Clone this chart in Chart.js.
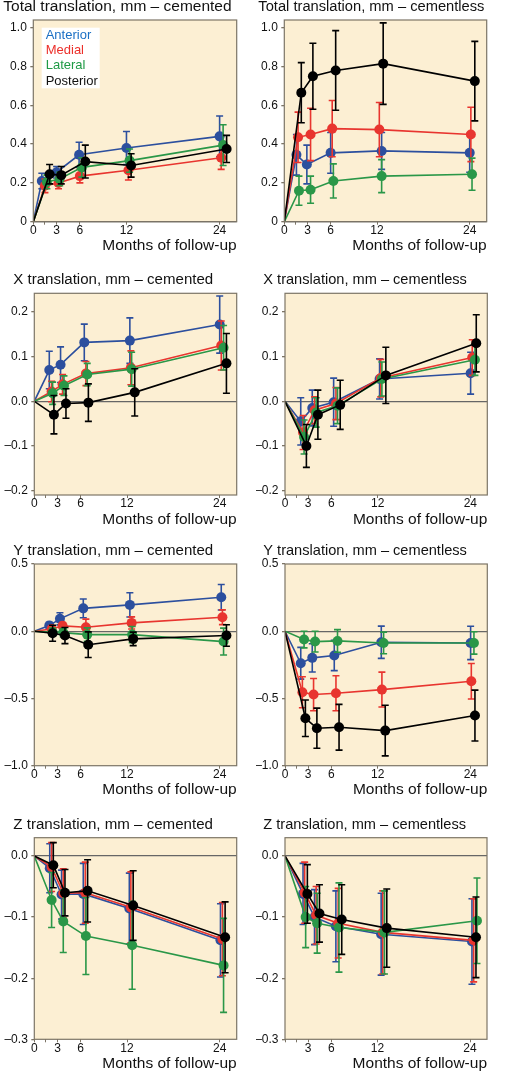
<!DOCTYPE html>
<html>
<head>
<meta charset="utf-8">
<script src="https://cdn.jsdelivr.net/npm/chart.js@4.4.0/dist/chart.umd.min.js"></script>
<style>
html, body { margin: 0; padding: 0; background: #fff; }
body { position: relative; width: 511px; height: 1071px; overflow: hidden; }
canvas { position: absolute; }
</style>
</head>
<body>
<script>
const seriesNames = ['Anterior', 'Medial', 'Lateral', 'Posterior'];
const seriesColors = ['#2c4f9e', '#e8352f', '#2a9748', '#000000'];
const legendColors = ['#1a6fc4', '#ec2f2a', '#1f9a45', '#111111'];
const seriesOrder = [3, 2, 1, 0]; // posterior drawn on top

const panelTitles = [
    'Total translation, mm \u2013 cemented',
    'Total translation, mm \u2013 cementless',
    'X translation, mm \u2013 cemented',
    'X translation, mm \u2013 cementless',
    'Y translation, mm \u2013 cemented',
    'Y translation, mm \u2013 cementless',
    'Z translation, mm \u2013 cemented',
    'Z translation, mm \u2013 cementless'
];
const xAxisTitle = 'Months of follow-up';
const xTicks = [0, 1.5, 3, 6, 12, 24];
const xTickLabels = ['0', '', '3', '6', '12', '24'];
const xTickLabelsNoZero = ['', '', '3', '6', '12', '24'];

const totalTicks = [0, 0.2, 0.4, 0.6, 0.8, 1.0];
const totalTickLabels = ['0', '0.2', '0.4', '0.6', '0.8', '1.0'];
const xTransTicks = [-0.2, -0.1, 0, 0.1, 0.2];
const xTransTickLabels = ['\u20130.2', '\u20130.1', '0.0', '0.1', '0.2'];
const yTransTicks = [-1, -0.5, 0, 0.5];
const yTransTickLabels = ['\u20131.0', '\u20130.5', '0.0', '0.5'];
const zTransTicks = [-0.3, -0.2, -0.1, 0];
const zTransTickLabels = ['\u20130.3', '\u20130.2', '\u20130.1', '0.0'];

// rows: anterior, medial, lateral, posterior; first point is the baseline
const totalCemMonths = [
    [0, 1.1, 3.0, 5.9, 12.0, 24.0],
    [0, 1.5, 3.25, 6.0, 12.25, 24.2],
    [0, 1.75, 3.4, 6.25, 12.4, 24.45],
    [0, 2.1, 3.6, 6.7, 12.6, 24.9]
];
const totalCemMean = [
    [0, 0.21, 0.255, 0.345, 0.38, 0.44],
    [0, 0.185, 0.20, 0.235, 0.265, 0.33],
    [0, 0.205, 0.22, 0.28, 0.315, 0.395],
    [0, 0.245, 0.24, 0.31, 0.29, 0.375]
];
const totalCemErr = [
    [null, 0.04, 0.03, 0.065, 0.085, 0.105],
    [null, 0.035, 0.03, 0.035, 0.05, 0.06],
    [null, 0.035, 0.035, 0.05, 0.06, 0.105],
    [null, 0.05, 0.045, 0.085, 0.06, 0.07]
];

const totalCemlessMonths = [
    [0, 1.57, 2.92, 6.0, 12.6, 24.0],
    [0, 1.78, 3.4, 6.2, 12.3, 24.15],
    [0, 1.9, 3.4, 6.35, 12.6, 24.3],
    [0, 2.2, 3.7, 6.65, 12.8, 24.66]
];
const totalCemlessMean = [
    [0, 0.345, 0.295, 0.355, 0.365, 0.355],
    [0, 0.435, 0.45, 0.48, 0.475, 0.45],
    [0, 0.16, 0.165, 0.21, 0.235, 0.245],
    [0, 0.665, 0.75, 0.78, 0.815, 0.725]
];
const totalCemlessErr = [
    [null, 0.105, 0.1, 0.105, 0.095, 0.1],
    [null, 0.13, 0.135, 0.145, 0.14, 0.14],
    [null, 0.075, 0.07, 0.088, 0.085, 0.083],
    [null, 0.155, 0.17, 0.205, 0.21, 0.205]
];

const xCemMonths = [
    [0, 1.94, 3.4, 6.47, 12.37, 24.0],
    [0, 2.24, 3.66, 6.68, 12.5, 24.2],
    [0, 2.37, 3.84, 6.85, 12.6, 24.5],
    [0, 2.54, 4.1, 7.0, 13.0, 24.87]
];
const xCemMean = [
    [0, 0.07, 0.082, 0.132, 0.136, 0.172],
    [0, 0.022, 0.038, 0.062, 0.075, 0.125],
    [0, 0.018, 0.035, 0.06, 0.072, 0.12],
    [0, -0.03, -0.005, -0.003, 0.02, 0.085]
];
const xCemErr = [
    [null, 0.042, 0.04, 0.041, 0.051, 0.064],
    [null, 0.023, 0.022, 0.027, 0.038, 0.055],
    [null, 0.025, 0.022, 0.025, 0.038, 0.05],
    [null, 0.043, 0.033, 0.042, 0.053, 0.067]
];

const xCemlessMonths = [
    [0, 2.04, 3.53, 6.3, 12.25, 24.04],
    [0, 2.34, 3.83, 6.6, 12.4, 24.25],
    [0, 2.47, 4.04, 6.8, 12.55, 24.6],
    [0, 2.77, 4.26, 7.15, 13.06, 24.77]
];
const xCemlessMean = [
    [0, -0.045, -0.015, -0.002, 0.05, 0.063],
    [0, -0.07, -0.02, -0.005, 0.052, 0.098],
    [0, -0.08, -0.025, -0.01, 0.05, 0.093],
    [0, -0.1, -0.03, -0.008, 0.058, 0.13]
];
const xCemlessErr = [
    [null, 0.053, 0.04, 0.054, 0.045, 0.047],
    [null, 0.038, 0.03, 0.036, 0.042, 0.04],
    [null, 0.038, 0.033, 0.04, 0.038, 0.035],
    [null, 0.048, 0.055, 0.055, 0.063, 0.064]
];

const yCemMonths = [
    [0, 1.94, 3.32, 6.34, 12.37, 24.2],
    [0, 2.24, 3.66, 6.68, 12.6, 24.35],
    [0, 2.37, 3.75, 6.85, 12.67, 24.5],
    [0, 2.37, 3.97, 6.98, 12.8, 24.87]
];
const yCemMean = [
    [0, 0.042, 0.092, 0.17, 0.196, 0.253],
    [0, 0.017, 0.04, 0.03, 0.062, 0.104],
    [0, -0.007, -0.01, -0.025, -0.025, -0.077],
    [0, -0.015, -0.032, -0.1, -0.057, -0.032]
];
const yCemErr = [
    [null, 0.025, 0.045, 0.07, 0.09, 0.095],
    [null, 0.02, 0.025, 0.06, 0.045, 0.055],
    [null, 0.03, 0.03, 0.05, 0.06, 0.1],
    [null, 0.06, 0.06, 0.095, 0.05, 0.08]
];

const yCemlessMonths = [
    [0, 2.04, 3.53, 6.38, 12.47, 24.04],
    [0, 2.25, 3.7, 6.6, 12.55, 24.13],
    [0, 2.47, 3.9, 6.8, 12.77, 24.47],
    [0, 2.64, 4.13, 7.0, 12.98, 24.6]
];
const yCemlessMean = [
    [0, -0.238, -0.198, -0.18, -0.082, -0.087],
    [0, -0.454, -0.471, -0.461, -0.434, -0.372],
    [0, -0.062, -0.077, -0.072, -0.087, -0.087],
    [0, -0.647, -0.721, -0.714, -0.739, -0.627]
];
const yCemlessErr = [
    [null, 0.118, 0.105, 0.113, 0.12, 0.124],
    [null, 0.115, 0.12, 0.13, 0.13, 0.132],
    [null, 0.062, 0.077, 0.084, 0.08, 0.083],
    [null, 0.136, 0.149, 0.17, 0.188, 0.189]
];

const zCemMonths = [
    [0, 2.0, 3.53, 6.34, 12.3, 24.1],
    [0, 2.24, 3.75, 6.6, 12.5, 24.35],
    [0, 2.24, 3.75, 6.68, 12.67, 24.5],
    [0, 2.46, 3.97, 6.9, 12.8, 24.7]
];
const zCemMean = [
    [0, -0.02, -0.063, -0.062, -0.086, -0.138],
    [0, -0.018, -0.061, -0.06, -0.084, -0.136],
    [0, -0.072, -0.107, -0.131, -0.146, -0.179],
    [0, -0.015, -0.06, -0.057, -0.081, -0.133]
];
const zCemErr = [
    [null, 0.04, 0.04, 0.05, 0.058, 0.06],
    [null, 0.04, 0.04, 0.05, 0.058, 0.06],
    [null, 0.045, 0.051, 0.063, 0.072, 0.077],
    [null, 0.037, 0.038, 0.051, 0.057, 0.058]
];

const zCemlessMonths = [
    [0, 2.34, 3.83, 6.6, 12.47, 24.25],
    [0, 2.55, 4.04, 6.9, 12.68, 24.47],
    [0, 2.68, 4.17, 7.0, 12.9, 24.9],
    [0, 2.9, 4.47, 7.36, 13.2, 24.77]
];
const zCemlessMean = [
    [0, -0.062, -0.1, -0.115, -0.128, -0.14],
    [0, -0.06, -0.097, -0.11, -0.125, -0.138],
    [0, -0.1, -0.11, -0.117, -0.125, -0.106],
    [0, -0.062, -0.094, -0.104, -0.118, -0.133]
];
const zCemlessErr = [
    [null, 0.05, 0.045, 0.058, 0.067, 0.07],
    [null, 0.05, 0.047, 0.057, 0.068, 0.068],
    [null, 0.05, 0.049, 0.073, 0.068, 0.07],
    [null, 0.048, 0.047, 0.057, 0.064, 0.066]
];

const FONT = "'Liberation Sans', Arial, Helvetica, sans-serif";
const plotBg = '#fcefd3';
const frameColor = '#7d7566';

// layout: title x, plot left, right, top, bottom (page pixels), title font size
const panels = [
    {months: totalCemMonths, mean: totalCemMean, err: totalCemErr, yMin: 0, yMax: 1.04, yTicks: totalTicks, yLabels: totalTickLabels, xLabels: xTickLabels, legend: true, box: [3.3, 33.3, 236.7, 20, 221.7], titleSize: 15.5},
    {months: totalCemlessMonths, mean: totalCemlessMean, err: totalCemlessErr, yMin: 0, yMax: 1.04, yTicks: totalTicks, yLabels: totalTickLabels, xLabels: xTickLabels, box: [258.3, 284.3, 486.7, 20, 221.7], titleSize: 14.7},
    {months: xCemMonths, mean: xCemMean, err: xCemErr, yMin: -0.21, yMax: 0.242, yTicks: xTransTicks, yLabels: xTransTickLabels, xLabels: xTickLabels, box: [13.3, 34.3, 236.7, 293.3, 495], titleSize: 15.05},
    {months: xCemlessMonths, mean: xCemlessMean, err: xCemlessErr, yMin: -0.21, yMax: 0.242, yTicks: xTransTicks, yLabels: xTransTickLabels, xLabels: xTickLabels, box: [263.3, 285, 487.3, 293.3, 495], titleSize: 14.6},
    {months: yCemMonths, mean: yCemMean, err: yCemErr, yMin: -1, yMax: 0.5, yTicks: yTransTicks, yLabels: yTransTickLabels, xLabels: xTickLabels, box: [13.3, 34.3, 236.7, 564, 765.7], titleSize: 15.05},
    {months: yCemlessMonths, mean: yCemlessMean, err: yCemlessErr, yMin: -1, yMax: 0.5, yTicks: yTransTicks, yLabels: yTransTickLabels, xLabels: xTickLabels, box: [263.3, 285, 487.3, 564, 765.7], titleSize: 14.6},
    {months: zCemMonths, mean: zCemMean, err: zCemErr, yMin: -0.3, yMax: 0.03, yTicks: zTransTicks, yLabels: zTransTickLabels, xLabels: xTickLabels, box: [13.3, 34.3, 236.7, 837.7, 1039.3], titleSize: 15.1},
    {months: zCemlessMonths, mean: zCemlessMean, err: zCemlessErr, yMin: -0.3, yMax: 0.03, yTicks: zTransTicks, yLabels: zTransTickLabels, xLabels: xTickLabelsNoZero, box: [263.3, 285, 487, 837.7, 1039.3], titleSize: 14.6}
];

// cream plot area with a thin frame, panel title above it
const plotFrame = {
    id: 'plotFrame',
    beforeDraw(chart, args, opts) {
        const {ctx, chartArea: a} = chart;
        ctx.save();
        ctx.fillStyle = plotBg;
        ctx.fillRect(a.left, a.top, a.width, a.height);
        ctx.fillStyle = '#111';
        ctx.font = opts.titleSize + 'px ' + FONT;
        ctx.textBaseline = 'middle';
        ctx.textAlign = 'left';
        ctx.fillText(opts.title, opts.titleX, a.top - 13.2);
        ctx.restore();
    },
    afterDraw(chart) {
        const {ctx, chartArea: a} = chart;
        ctx.save();
        ctx.strokeStyle = frameColor;
        ctx.lineWidth = 1.2;
        ctx.strokeRect(a.left, a.top, a.width, a.height);
        ctx.restore();
    }
};

// vertical error bars with caps, drawn just under each series
const errorBars = {
    id: 'errorBars',
    beforeDatasetDraw(chart, args) {
        const ds = chart.data.datasets[args.index];
        const yScale = chart.scales.y;
        const ctx = chart.ctx;
        ctx.save();
        ctx.strokeStyle = ds.borderColor;
        ctx.lineWidth = 1.6;
        args.meta.data.forEach(function (pt, i) {
            const e = ds.errors[i];
            if (e === null || e === undefined) return;
            const v = ds.data[i].y;
            const top = yScale.getPixelForValue(v + e), bot = yScale.getPixelForValue(v - e);
            ctx.beginPath();
            ctx.moveTo(pt.x, top); ctx.lineTo(pt.x, bot);
            ctx.moveTo(pt.x - 3.5, top); ctx.lineTo(pt.x + 3.5, top);
            ctx.moveTo(pt.x - 3.5, bot); ctx.lineTo(pt.x + 3.5, bot);
            ctx.stroke();
        });
        ctx.restore();
    }
};

// coloured text legend in a white box (first panel only)
const textLegend = {
    id: 'textLegend',
    afterDatasetsDraw(chart, args, opts) {
        if (!opts.show) return;
        const {ctx, chartArea: a} = chart;
        ctx.save();
        ctx.fillStyle = '#ffffff';
        ctx.fillRect(a.left + 8.4, a.top + 7.7, 58, 60.6);
        ctx.font = '13px ' + FONT;
        ctx.textBaseline = 'middle';
        seriesNames.forEach(function (name, i) {
            ctx.fillStyle = legendColors[i];
            ctx.fillText(name, a.left + 12.4, a.top + 15.2 + i * 15.3);
        });
        ctx.restore();
    }
};

panels.forEach(function (p, k) {
    const [tx, L, R, T, B] = p.box;
    const cx = L < 255 ? 0 : 255;
    const cy = Math.floor(T - 24);
    const ch = Math.ceil(B + 32 - cy);
    const cw = Math.ceil(R + 10 - cx);

    const canvas = document.createElement('canvas');
    canvas.width = cw; canvas.height = ch;
    canvas.style.left = cx + 'px'; canvas.style.top = cy + 'px';
    canvas.style.width = cw + 'px'; canvas.style.height = ch + 'px';
    document.body.appendChild(canvas);

    const datasets = seriesNames.map(function (name, s) {
        return {
            label: name,
            data: p.months[s].map(function (m, i) { return {x: m, y: p.mean[s][i]}; }),
            errors: p.err[s],
            borderColor: seriesColors[s],
            backgroundColor: seriesColors[s],
            borderWidth: 1.6,
            pointRadius: p.months[s].map(function (m, i) { return i === 0 ? 0 : 5; }),
            pointBorderWidth: 0,
            pointHoverRadius: 0,
            tension: 0,
            order: seriesOrder[s]
        };
    });

    new Chart(canvas, {
        type: 'line',
        data: {datasets: datasets},
        options: {
            responsive: false,
            animation: false,
            events: [],
            layout: {padding: {left: 1, top: T - cy, right: cw - (R - cx), bottom: ch - (B + 32 - cy)}},
            plugins: {
                legend: {display: false},
                tooltip: {enabled: false},
                title: {display: false},
                plotFrame: {title: panelTitles[k], titleX: tx - cx, titleSize: p.titleSize},
                textLegend: {show: !!p.legend}
            },
            scales: {
                x: {
                    type: 'linear',
                    min: 0,
                    max: 26.2,
                    afterBuildTicks: function (scale) { scale.ticks = xTicks.map(function (v) { return {value: v}; }); },
                    afterFit: function (scale) { scale.height = 32; },
                    ticks: {
                        autoSkip: false, maxRotation: 0, padding: 0, color: '#111',
                        font: {family: FONT, size: 12, lineHeight: 1},
                        callback: function (v, i) { return p.xLabels[i]; }
                    },
                    grid: {drawOnChartArea: false, drawTicks: true, tickLength: 3, tickColor: frameColor, lineWidth: 1},
                    border: {display: false},
                    title: {
                        display: true, text: xAxisTitle, align: 'end', color: '#111',
                        font: {family: FONT, size: 15.5, lineHeight: 1}, padding: 0
                    }
                },
                y: {
                    type: 'linear',
                    min: p.yMin,
                    max: p.yMax,
                    afterBuildTicks: function (scale) { scale.ticks = p.yTicks.map(function (v) { return {value: v}; }); },
                    afterFit: function (scale) { scale.width = L - cx - 1; },
                    ticks: {
                        autoSkip: false, padding: 3.5, color: '#111',
                        font: {family: FONT, size: 12, lineHeight: 1},
                        callback: function (v, i) { return p.yLabels[i]; }
                    },
                    grid: {
                        drawOnChartArea: true, drawTicks: true, tickLength: 3, tickColor: frameColor, lineWidth: 1.3,
                        color: function (c) { return c.tick && c.tick.value === 0 ? '#666666' : 'rgba(0,0,0,0)'; }
                    },
                    border: {display: false}
                }
            }
        },
        plugins: [plotFrame, errorBars, textLegend]
    });
});
</script>
</body>
</html>
